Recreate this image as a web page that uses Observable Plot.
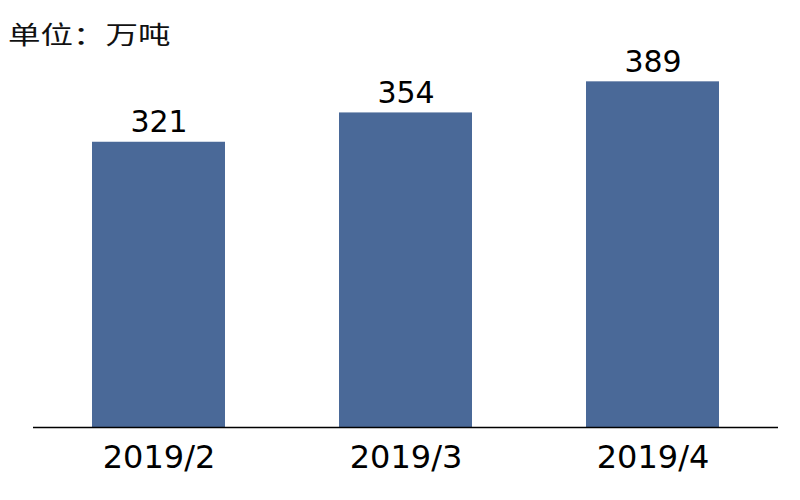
<!DOCTYPE html>
<html>
<head>
<meta charset="utf-8">
<script src="https://cdn.jsdelivr.net/npm/d3@7"></script>
<script src="https://cdn.jsdelivr.net/npm/@observablehq/plot@0.6"></script>
<style>
  body { margin: 0; background: #fff; width: 800px; height: 500px; overflow: hidden; }
  #title { height: 30px; position: relative; }
  #title span { position: absolute; left: 8px; top: 17px; font-family: "Noto Sans CJK SC", sans-serif; font-size: 25px; line-height: 32px; color: #111; transform: scaleX(1.3); transform-origin: left center; white-space: nowrap; z-index: 1; }
</style>
</head>
<body>
<div id="title"><span>单位：万吨</span></div>
<div id="chart"></div>
<script>
const categories = ["2019/2", "2019/3", "2019/4"];
const values = [321, 354, 389];

const data = categories.map((c, i) => ({month: c, value: values[i]}));

const chart = Plot.plot({
  width: 800,
  height: 470,
  marginLeft: 33,
  marginRight: 22,
  marginTop: 30,
  marginBottom: 73,
  style: {fontFamily: "'DejaVu Sans', Verdana, sans-serif", background: "transparent", color: "#000"},
  x: {domain: categories, paddingInner: 0.46, paddingOuter: 0.235, label: null},
  y: {domain: [0, 413], axis: null},
  marks: [
    Plot.barY(data, {x: "month", y: "value", fill: "#4a6998"}),
    Plot.text(data, {x: "month", y: "value", text: d => String(d.value), dy: -10, lineAnchor: "bottom", fontSize: 30, fill: "#000"}),
    Plot.ruleY([0], {stroke: "#000", strokeWidth: 1.5}),
    Plot.axisX({tickSize: 0, tickPadding: 18, fontSize: 32, fill: "#000", label: null})
  ]
});
document.getElementById("chart").appendChild(chart);
</script>
</body>
</html>
